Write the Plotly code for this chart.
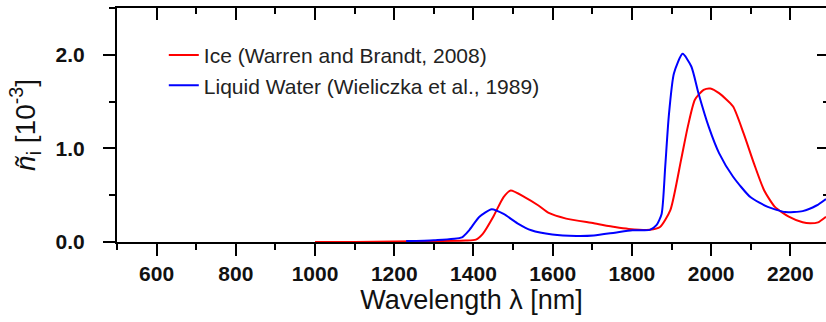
import plotly.graph_objects as go

# Data (wavelength in nm, imaginary refractive index in 10^-3)
ice_wl = [1000, 1100, 1200, 1300, 1380, 1406, 1424, 1450, 1476, 1494, 1529, 1564, 1590, 1634, 1704,
          1757, 1792, 1845, 1871, 1897, 1924, 1941, 1959, 1981, 1998, 2020, 2055, 2082, 2108,
          2134, 2161, 2196, 2231, 2250, 2270, 2290]
ice_ni = [0.0, 0.0, 0.005, 0.01, 0.015, 0.025, 0.09, 0.27, 0.48, 0.55, 0.48, 0.39, 0.31, 0.25, 0.20,
          0.16, 0.14, 0.13, 0.16, 0.34, 0.875, 1.23, 1.52, 1.625, 1.64, 1.59, 1.45, 1.16, 0.84,
          0.55, 0.375, 0.27, 0.21, 0.20, 0.21, 0.27]

water_wl = [1230, 1300, 1371, 1389, 1415, 1446, 1476, 1511, 1546, 1599, 1660, 1704, 1757, 1801,
            1845, 1862, 1875, 1884, 1893, 1906, 1928, 1950, 1968, 1994, 2020, 2055, 2099, 2143,
            2187, 2231, 2266, 2290]
water_ni = [0.01, 0.02, 0.05, 0.125, 0.27, 0.35, 0.30, 0.20, 0.125, 0.08, 0.065, 0.07, 0.10, 0.125,
            0.13, 0.18, 0.30, 0.80, 1.34, 1.80, 2.01, 1.875, 1.59, 1.23, 0.95, 0.70, 0.48, 0.375,
            0.32, 0.33, 0.39, 0.46]

series_names = ["Ice (Warren and Brandt, 2008)", "Liquid Water (Wieliczka et al., 1989)"]

FONT = "Arial, Liberation Sans, sans-serif"

fig = go.Figure()
fig.add_trace(go.Scatter(x=ice_wl, y=ice_ni, mode="lines", name=series_names[0],
                         line=dict(color="#ff0000", width=2, shape="spline", smoothing=0.6)))
fig.add_trace(go.Scatter(x=water_wl, y=water_ni, mode="lines", name=series_names[1],
                         line=dict(color="#0000ff", width=2, shape="spline", smoothing=0.6)))
# invisible traces to anchor mirror axes
fig.add_trace(go.Scatter(x=[None], y=[None], xaxis="x2", yaxis="y", showlegend=False, hoverinfo="skip"))
fig.add_trace(go.Scatter(x=[None], y=[None], xaxis="x", yaxis="y2", showlegend=False, hoverinfo="skip"))

xr = [500, 2290]
yr = [0, 2.5]

fig.update_layout(
    width=826, height=322,
    margin=dict(l=117, r=0, t=8, b=80),
    paper_bgcolor="white", plot_bgcolor="white",
    font=dict(family=FONT, color="black"),
    showlegend=True,
    legend=dict(x=0.066, y=0.885, xanchor="left", yanchor="top",
                font=dict(size=21, family=FONT, color="#222"),
                bgcolor="rgba(0,0,0,0)", tracegroupgap=0, itemwidth=30),
    xaxis=dict(range=xr, showgrid=False, zeroline=False,
               showline=True, linecolor="black", linewidth=2,
               ticks="outside", ticklen=12, tickwidth=2, tickcolor="black",
               dtick=200, tick0=0,
               minor=dict(ticks="outside", ticklen=6, tickwidth=2, tickcolor="black", dtick=100),
               tickfont=dict(size=21, family=FONT, weight="bold", color="#111"),
               ticklabelstandoff=0,
               title=dict(text="Wavelength λ [nm]", font=dict(size=27, family=FONT, color="#111"),
                          standoff=0)),
    xaxis2=dict(range=xr, overlaying="x", side="top", matches="x", showgrid=False, zeroline=False,
                showline=True, linecolor="black", linewidth=2,
                ticks="inside", ticklen=12, tickwidth=2, tickcolor="black",
                dtick=200, tick0=0, showticklabels=False,
                minor=dict(ticks="inside", ticklen=6, tickwidth=2, tickcolor="black", dtick=100)),
    yaxis=dict(range=yr, showgrid=False, zeroline=False,
               showline=True, linecolor="black", linewidth=2,
               ticks="outside", ticklen=12, tickwidth=2, tickcolor="black",
               dtick=1.0, tick0=0, tickformat=".1f",
               minor=dict(ticks="outside", ticklen=6, tickwidth=2, tickcolor="black", dtick=0.5),
               tickfont=dict(size=21, family=FONT, weight="bold", color="#111"),
               ticklabelstandoff=14,
               title=dict(text="<i>ñ</i><sub>i</sub> [10<sup>-3</sup>]",
                          font=dict(size=28, family=FONT, color="#111"), standoff=12)),
    yaxis2=dict(range=yr, overlaying="y", side="right", showgrid=False, zeroline=False,
                showline=False, ticks="inside", ticklen=9, tickwidth=2, tickcolor="black",
                dtick=1.0, tick0=0, showticklabels=False,
                minor=dict(ticks="inside", ticklen=3, tickwidth=2, tickcolor="black", dtick=0.5)),
)

fig.write_html("out.html")
